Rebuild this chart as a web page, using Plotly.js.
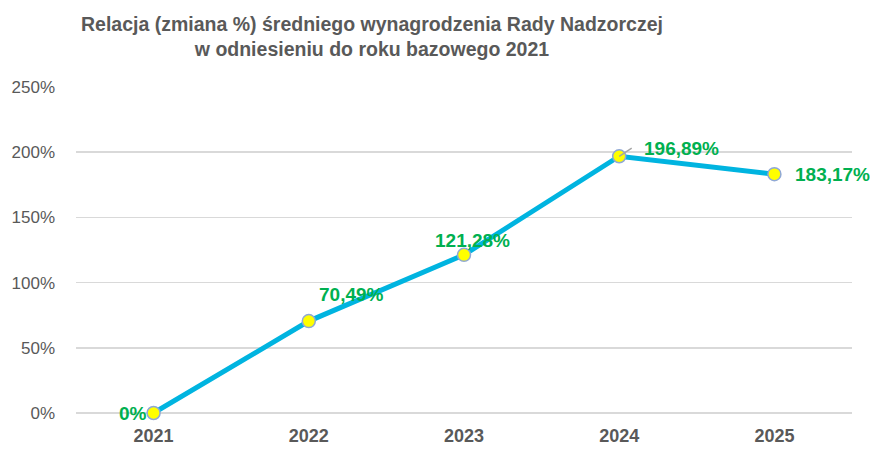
<!DOCTYPE html>
<html>
<head>
<meta charset="utf-8">
<script src="https://cdn.plot.ly/plotly-3.0.1.min.js"></script>
<style>body{margin:0;background:#fff;} #chart{width:875px;height:449px;}</style>
</head>
<body>
<div id="chart"></div>
<script>
const years = ['2021', '2022', '2023', '2024', '2025'];
const values = [0, 70.49, 121.28, 196.89, 183.17];
const yTicks = [0, 50, 100, 150, 200, 250];
const yTickLabels = ['0%', '50%', '100%', '150%', '200%', '250%'];
const titleText = 'Relacja (zmiana %) średniego wynagrodzenia Rady Nadzorczej<br>w odniesieniu do roku bazowego 2021';

const FONT = '"Liberation Sans", Arial, sans-serif';
function fmt(v) { return v === 0 ? '0%' : v.toFixed(2).replace('.', ',') + '%'; }

const labelOffsets = [
  {xanchor: 'right', xshift: -5, yshift: 0},
  {xanchor: 'left', xshift: 8, yshift: 27},
  {xanchor: 'center', xshift: 8, yshift: 14},
  {xanchor: 'left', xshift: 23, yshift: 8},
  {xanchor: 'left', xshift: 19, yshift: 0}
];

const annotations = [];
// leader line for 2024 label
annotations.push({
  x: 3, y: values[3], xref: 'x', yref: 'y', text: '', showarrow: true,
  arrowhead: 0, arrowwidth: 1.5, arrowcolor: '#A6A6A6', ax: 14, ay: -9, standoff: 0
});
for (let i = 0; i < years.length; i++) {
  annotations.push({
    x: i, y: values[i], xref: 'x', yref: 'y',
    text: '<b>' + fmt(values[i]) + '</b>', showarrow: false, yanchor: 'middle',
    xanchor: labelOffsets[i].xanchor, xshift: labelOffsets[i].xshift, yshift: labelOffsets[i].yshift,
    font: {family: FONT, size: 19, color: '#00B050'}
  });
}
annotations.push({
  x: 0.381, xref: 'paper', xanchor: 'center', y: 1.155, yref: 'paper', yanchor: 'middle',
  text: '<b>' + titleText + '</b>',
  showarrow: false, font: {family: FONT, size: 19.5, color: '#595959'}
});

const data = [{
  x: years, y: values, type: 'scatter', mode: 'lines+markers',
  line: {color: '#00B4E0', width: 5},
  marker: {color: '#FFFF00', size: 13, line: {color: '#8FA8D6', width: 1.5}},
  hoverinfo: 'skip', cliponaxis: false
}];

const layout = {
  width: 875, height: 449,
  margin: {l: 76, r: 23, t: 87, b: 36},
  paper_bgcolor: '#fff', plot_bgcolor: '#fff',
  showlegend: false,
  xaxis: {
    type: 'category', range: [-0.5, 4.5], showgrid: false, zeroline: false,
    showline: false, ticks: '', ticklabelstandoff: 10,
    tickfont: {family: FONT, size: 18, color: '#595959', weight: 'bold'}
  },
  yaxis: {
    range: [0, 250], tickvals: yTicks, ticktext: yTickLabels,
    showgrid: true, gridcolor: '#D9D9D9', gridwidth: 1.5, zeroline: true,
    zerolinecolor: '#D9D9D9', zerolinewidth: 1.5, showline: false, ticks: '',
    ticklabelstandoff: 20,
    tickfont: {family: FONT, size: 17, color: '#595959'}
  },
  annotations: annotations
};

Plotly.newPlot('chart', data, layout, {displayModeBar: false, staticPlot: true});
</script>
</body>
</html>
